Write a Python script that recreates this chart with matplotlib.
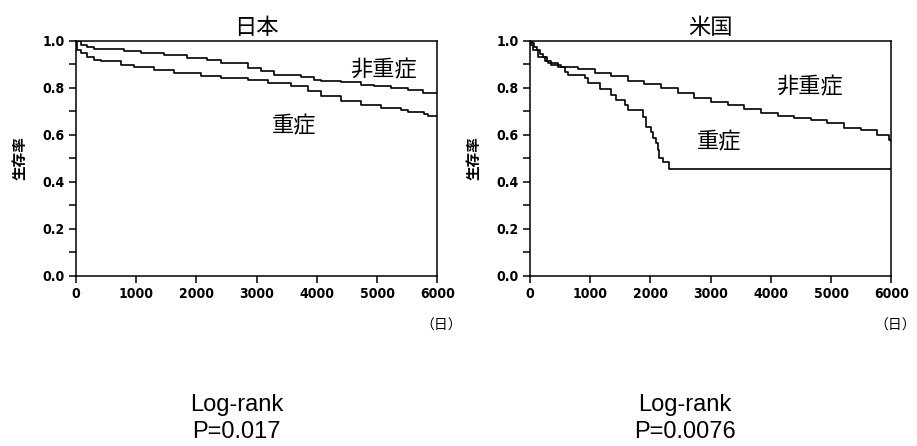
import numpy as np
import matplotlib
matplotlib.use('Agg')
import matplotlib.pyplot as plt
from matplotlib.ticker import MultipleLocator

plt.rcParams['font.family'] = ['Noto Sans CJK JP', 'DejaVu Sans']

# Japan (days, survival)
jp_mild_t = [0, 78, 188, 299, 798, 1075, 1463, 1851, 2183, 2404, 2848, 3069, 3291, 3734, 3956, 4067, 4399, 4731, 4953, 5230, 5507, 5756, 6000]
jp_mild_s = [1.0, 0.983, 0.972, 0.965, 0.958, 0.948, 0.941, 0.926, 0.917, 0.905, 0.884, 0.870, 0.856, 0.846, 0.834, 0.827, 0.823, 0.813, 0.806, 0.799, 0.792, 0.776, 0.776]
jp_sev_t = [0, 10, 78, 188, 299, 410, 742, 964, 1296, 1629, 2072, 2404, 2848, 3180, 3568, 3845, 4067, 4399, 4731, 5064, 5396, 5507, 5784, 5839, 6000]
jp_sev_s = [1.0, 0.962, 0.948, 0.929, 0.919, 0.912, 0.898, 0.887, 0.877, 0.863, 0.848, 0.841, 0.834, 0.820, 0.806, 0.785, 0.763, 0.742, 0.727, 0.713, 0.706, 0.697, 0.688, 0.678, 0.678]

# USA (days, survival)
us_mild_t = [0, 28, 60, 110, 160, 220, 280, 354, 519, 795, 1072, 1348, 1624, 1900, 2176, 2452, 2729, 3005, 3281, 3557, 3834, 4110, 4386, 4662, 4938, 5215, 5491, 5767, 5960, 6000]
us_mild_s = [1.0, 0.99, 0.975, 0.96, 0.945, 0.93, 0.915, 0.897, 0.890, 0.879, 0.864, 0.850, 0.830, 0.816, 0.798, 0.776, 0.755, 0.741, 0.727, 0.708, 0.694, 0.680, 0.670, 0.663, 0.649, 0.627, 0.620, 0.599, 0.578, 0.575]
us_sev_t = [0, 20, 55, 133, 243, 298, 464, 574, 630, 906, 961, 1155, 1348, 1431, 1569, 1624, 1873, 1928, 2010, 2038, 2093, 2121, 2149, 2204, 2315, 6000]
us_sev_s = [1.0, 0.983, 0.96, 0.929, 0.915, 0.907, 0.890, 0.868, 0.854, 0.840, 0.819, 0.793, 0.769, 0.748, 0.727, 0.705, 0.677, 0.635, 0.614, 0.585, 0.564, 0.535, 0.500, 0.486, 0.455, 0.455]

panels = [
    ('日本', jp_mild_t, jp_mild_s, jp_sev_t, jp_sev_s, (5105, 0.877), (3616, 0.637), 'P=0.017', 0.258),
    ('米国', us_mild_t, us_mild_s, us_sev_t, us_sev_s, (4636, 0.805), (3144, 0.571), 'P=0.0076', 0.747),
]

fig = plt.figure(figsize=(9.17, 4.46), dpi=100)
lefts = [0.0829, 0.578]

for left, (title, mt, ms, st, ss, mpos, spos, ptxt, px) in zip(lefts, panels):
    ax = fig.add_axes([left, 0.3812, 0.394, 0.5275])
    ax.step(mt, ms, where='post', color='black', lw=1.2)
    ax.step(st, ss, where='post', color='black', lw=1.2)
    ax.set_xlim(0, 6000)
    ax.set_ylim(0, 1.0)
    ax.xaxis.set_major_locator(MultipleLocator(1000))
    ax.yaxis.set_major_locator(MultipleLocator(0.2))
    ax.yaxis.set_minor_locator(MultipleLocator(0.1))
    ax.set_yticks(ax.get_yticks())
    ax.set_yticklabels([f'{v:.1f}' for v in ax.get_yticks()])
    ax.set_ylim(0, 1.0)
    ax.tick_params(axis='both', which='both', direction='out', length=5, width=1.1, pad=3)
    for lab in ax.get_xticklabels() + ax.get_yticklabels():
        lab.set_family('DejaVu Sans')
        lab.set_fontweight('bold')
        lab.set_fontstretch('condensed')
        lab.set_fontsize(10)
    for sp in ax.spines.values():
        sp.set_linewidth(1.1)
    ax.set_title(title, fontsize=16, pad=5)
    ax.text(mpos[0], mpos[1], '非重症', fontsize=16, ha='center', va='center')
    ax.text(spos[0], spos[1], '重症', fontsize=16, ha='center', va='center')
    ax.set_ylabel('生存率', fontsize=10.5, fontweight='bold', labelpad=11)
    ax.text(1.01, -0.21, '（日）', transform=ax.transAxes, fontsize=10, ha='center', va='center')
    fig.text(px, 0.078, 'Log-rank', family='Liberation Sans', fontsize=17, ha='center', va='baseline')
    fig.text(px, 0.018, ptxt, family='Liberation Sans', fontsize=17, ha='center', va='baseline')

fig.savefig('out.png', dpi=100)
